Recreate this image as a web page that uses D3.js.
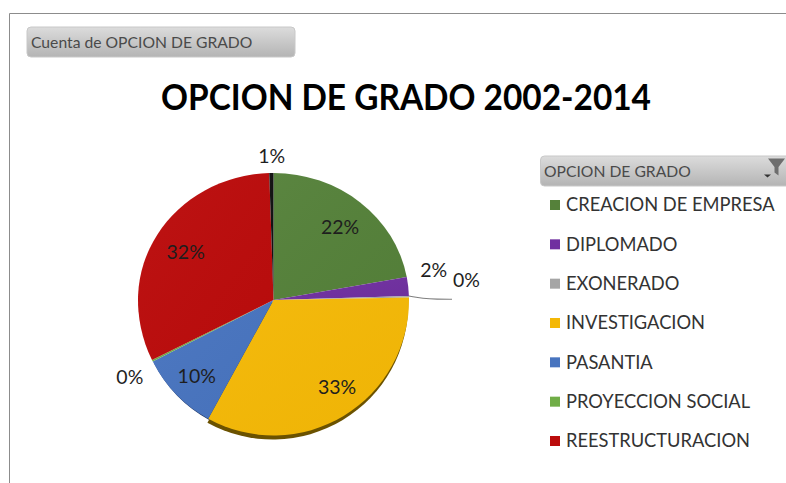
<!DOCTYPE html>
<html><head><meta charset="utf-8">
<script src="https://cdnjs.cloudflare.com/ajax/libs/d3/7.8.5/d3.min.js"></script>
<style>html,body{margin:0;padding:0;background:#fff}svg{display:block}text{font-family:Lato,"Open Sans",sans-serif}</style>
</head><body><svg id="c" width="786" height="483"></svg>
<script>
const chartTitle = "OPCION DE GRADO 2002-2014";
const fieldButton = "Cuenta de OPCION DE GRADO";
const legendTitle = "OPCION DE GRADO";
const categories = ["CREACION DE EMPRESA","DIPLOMADO","EXONERADO","INVESTIGACION","PASANTIA","PROYECCION SOCIAL","REESTRUCTURACION",""];
const values = [22.1,2.4,0.2,33.3,9.5,0.2,31.8,0.5];
const colors = ["#55813a","#7030a0","#a5a5a5","#f4b806","#4874bf","#70ad47","#bb0c0c","#111111"];

const svg = d3.select("#c");
const defs = svg.append("defs");
const cx = 273.5, cy = 300, R = 135.5, topSquash = 127/135.5;

const sheen = defs.append("linearGradient").attr("id","sheen").attr("x1",0).attr("y1",0).attr("x2",1).attr("y2",1);
sheen.append("stop").attr("offset",0).attr("stop-color","#fff").attr("stop-opacity",0.03);
sheen.append("stop").attr("offset",1).attr("stop-color","#000").attr("stop-opacity",0.02);
const btn = defs.append("linearGradient").attr("id","btn").attr("x1",0).attr("y1",0).attr("x2",0).attr("y2",1);
btn.append("stop").attr("offset",0).attr("stop-color","#dcdcdc");
btn.append("stop").attr("offset",1).attr("stop-color","#b4b4b4");
defs.append("clipPath").attr("id","upper").append("rect").attr("x",-200).attr("y",-200).attr("width",400).attr("height",200);
defs.append("clipPath").attr("id","lower").append("rect").attr("x",-200).attr("y",0).attr("width",400).attr("height",200);

svg.append("path").attr("d","M9.5,483V13.5H786").attr("fill","none").attr("stroke","#8c8c8c");

svg.append("rect").attr("x",27).attr("y",27).attr("width",268).attr("height",30).attr("rx",4).attr("fill","url(#btn)").attr("stroke","#c8c8c8");
svg.append("text").attr("x",31).attr("y",48).attr("font-size",15.7).attr("fill","#4a4a4a").text(fieldButton);

svg.append("text").attr("x",161).attr("y",110).attr("font-size",36).attr("font-weight",700).attr("fill","#000")
  .attr("textLength",490).attr("lengthAdjust","spacingAndGlyphs").text(chartTitle);

const pie = d3.pie().sort(null).value(d=>d)(values);
const arc = d3.arc().innerRadius(0).outerRadius(R);

// shadow rim under the lower slices
svg.append("g").selectAll("path").data(pie.filter(d=>d.index===3||d.index===4)).join("path")
  .attr("transform",d=>d.index===3?`translate(${cx-0.8},${cy+4})`:`translate(${cx+1},${cy+1.2})`)
  .attr("d",arc).attr("fill",d=>d.index===3?"#6b5200":"#1f3560");

[["upper",`translate(${cx},${cy}) scale(1,${topSquash})`],["lower",`translate(${cx},${cy})`]].forEach(([clip,t])=>{
  const g = svg.append("g").attr("transform",t).append("g").attr("clip-path",`url(#${clip})`);
  g.selectAll("path.s").data(pie).join("path").attr("class","s").attr("d",arc).attr("fill",d=>colors[d.index]);
  g.selectAll("path.h").data(pie).join("path").attr("class","h").attr("d",arc).attr("fill","url(#sheen)");
});

// leader line for the EXONERADO label
svg.append("path").attr("d",d3.line().curve(d3.curveBasis)([[cx+R,cy-4],[cx+R+14,cy-1.5],[cx+R+28,cy-0.8],[cx+R+43,cy-0.8]]))
  .attr("fill","none").attr("stroke","#7f7f7f").attr("stroke-width",1.1);

// labels: polar placement per slice (degrees clockwise from top, radius)
const labelPolar = [[42.3,99],[79.5,163],[84.1,194],[143.9,108],[225.3,108],[241.8,163],[298.6,100],[359.3,144]];
svg.selectAll("text.pct").data(pie).join("text").attr("class","pct")
  .attr("x",d=>cx+labelPolar[d.index][1]*Math.sin(labelPolar[d.index][0]*Math.PI/180))
  .attr("y",d=>cy-labelPolar[d.index][1]*Math.cos(labelPolar[d.index][0]*Math.PI/180))
  .attr("dy","0.35em").attr("text-anchor","middle").attr("font-size",19.5).attr("fill","#1e1e1e")
  .text(d=>Math.round(d.value)+"%");

svg.append("rect").attr("x",540.5).attr("y",156).attr("width",250).attr("height",30).attr("rx",4).attr("fill","url(#btn)").attr("stroke","#c8c8c8");
svg.append("text").attr("x",544).attr("y",177).attr("font-size",15.7).attr("fill","#4a4a4a").text(legendTitle);
svg.append("path").attr("d","M768,158.5H785L778.5,167V175.5L774.5,172.5V167Z").attr("fill","#6e6e6e");
svg.append("path").attr("d","M764,174.5H771L767.5,177.5Z").attr("fill","#333");

const legendNames = categories.filter(c=>c);
const ly = d3.scalePoint().domain(legendNames).range([205,441]);
const lg = svg.selectAll("g.l").data(legendNames).join("g").attr("class","l").attr("transform",d=>`translate(0,${ly(d)})`);
lg.append("rect").attr("x",550).attr("y",-5).attr("width",10).attr("height",10).attr("fill",d=>colors[categories.indexOf(d)]);
lg.append("text").attr("x",566).attr("dy","0.35em").attr("font-size",18.3).attr("fill","#333").text(d=>d);
</script></body></html>
